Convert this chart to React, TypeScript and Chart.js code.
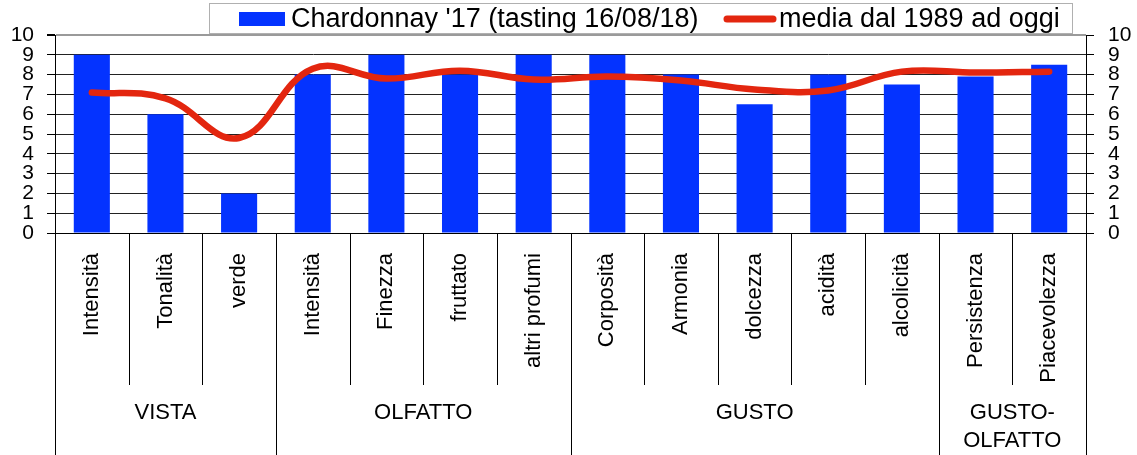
import React, { useEffect, useRef } from "react";
import { Chart, registerables } from "chart.js";

Chart.register(...registerables);

const categories = [
  "Intensità", "Tonalità", "verde",
  "Intensità", "Finezza", "fruttato", "altri profumi",
  "Corposità", "Armonia", "dolcezza", "acidità", "alcolicità",
  "Persistenza", "Piacevolezza",
];
const tastingValues = [9, 6, 2, 8, 9, 8, 9, 9, 8, 6.5, 8, 7.5, 7.9, 8.5];
const averageValues = [7.1, 6.8, 4.8, 8.3, 7.8, 8.2, 7.75, 7.9, 7.7, 7.25, 7.2, 8.15, 8.1, 8.15];
const groupLabels = [["VISTA"], ["OLFATTO"], ["GUSTO"], ["GUSTO-", "OLFATTO"]];
const groupSizes = [3, 4, 5, 2];
const seriesNames = ["Chardonnay '17 (tasting 16/08/18)", "media dal 1989 ad oggi"];

const BLUE = "#0433ff";
const RED = "#e3260f";
const FONT = "'Liberation Sans', Arial, sans-serif";

const decorPlugin = {
  id: "decor",
  afterDraw(chart: any) {
    const { ctx, chartArea } = chart;
    const x = chart.scales.x;
    const n = categories.length;
    const step = (chartArea.right - chartArea.left) / n;
    ctx.save();
    const bounds = new Set<number>([0]);
    let acc = 0;
    groupSizes.forEach((s) => { acc += s; bounds.add(acc); });
    ctx.strokeStyle = "#000";
    ctx.lineWidth = 1;
    for (let i = 0; i <= n; i++) {
      const px = Math.round(x.getPixelForValue(i) - step / 2) + 0.5;
      ctx.beginPath();
      ctx.moveTo(px, chartArea.bottom);
      ctx.lineTo(px, bounds.has(i) ? chart.height : chartArea.bottom + 152);
      ctx.stroke();
    }
    ctx.fillStyle = "#000";
    ctx.font = `22px ${FONT}`;
    ctx.textAlign = "center";
    ctx.textBaseline = "middle";
    let start = 0;
    groupSizes.forEach((s, gi) => {
      const cx = (x.getPixelForValue(start) + x.getPixelForValue(start + s - 1)) / 2;
      groupLabels[gi].forEach((line, li) => {
        ctx.fillText(line, cx, chartArea.bottom + 180 + li * 28);
      });
      start += s;
    });
    // legend
    ctx.fillStyle = "#fff";
    ctx.fillRect(209.5, 3.5, 863, 30);
    ctx.strokeStyle = "#b0b0b0";
    ctx.lineWidth = 1;
    ctx.strokeRect(209.5, 3.5, 863, 30);
    ctx.fillStyle = BLUE;
    ctx.fillRect(239, 12, 46, 14);
    ctx.strokeStyle = RED;
    ctx.lineWidth = 7;
    ctx.lineCap = "round";
    ctx.beginPath();
    ctx.moveTo(727, 19);
    ctx.lineTo(773, 19);
    ctx.stroke();
    ctx.fillStyle = "#000";
    ctx.font = `27px ${FONT}`;
    ctx.textAlign = "left";
    ctx.textBaseline = "middle";
    ctx.fillText(seriesNames[0], 291, 20);
    ctx.fillText(seriesNames[1], 779, 20);
    ctx.restore();
  },
};

export default function App() {
  const ref = useRef<HTMLCanvasElement>(null);
  useEffect(() => {
    document.body.style.margin = "0";
    const canvas = ref.current!;
    const chart = new Chart(canvas, {
      type: "bar",
      data: {
        labels: categories,
        datasets: [
          {
            type: "line",
            label: seriesNames[1],
            data: averageValues,
            borderColor: RED,
            backgroundColor: RED,
            borderWidth: 6.5,
            tension: 0.4,
            pointRadius: 0,
            borderCapStyle: "round",
            yAxisID: "y",
            order: 0,
          } as any,
          {
            type: "bar",
            label: seriesNames[0],
            data: tastingValues,
            backgroundColor: BLUE,
            borderWidth: 0,
            barPercentage: 0.49,
            categoryPercentage: 1,
            yAxisID: "y",
            order: 1,
          },
        ],
      },
      options: {
        responsive: false,
        animation: false,
        layout: { padding: { top: 35, left: 0, right: 0, bottom: 0 } },
        plugins: {
          legend: { display: false },
          title: { display: false },
          tooltip: { enabled: false },
        },
        scales: {
          x: {
            offset: true,
            grid: { display: false },
            border: { display: true, color: "#000", width: 1 },
            ticks: {
              autoSkip: false,
              minRotation: 90,
              maxRotation: 90,
              padding: 12,
              color: "#000",
              font: { family: FONT, size: 22 },
            },
            afterFit: (s: any) => { s.height = 222; },
          },
          y: {
            position: "left",
            min: 0,
            max: 10,
            grid: {
              color: (c: any) => (c.tick && c.tick.value === 10 ? "#9a9a9a" : "#222"),
              lineWidth: (c: any) => (c.tick && c.tick.value === 10 ? 2 : 1),
              tickColor: "#000",
              tickLength: 8,
              drawTicks: true,
            },
            border: { display: true, color: "#000", width: 1 },
            ticks: {
              stepSize: 1,
              autoSkip: false,
              padding: 13,
              color: "#000",
              font: { family: FONT, size: 21, lineHeight: 1 },
            },
            afterFit: (s: any) => { s.width = 55; },
          },
          y2: {
            position: "right",
            min: 0,
            max: 10,
            grid: { drawOnChartArea: false, tickColor: "#000", tickLength: 8, drawTicks: true },
            border: { display: true, color: "#000", width: 1 },
            ticks: {
              stepSize: 1,
              autoSkip: false,
              padding: 14,
              color: "#000",
              font: { family: FONT, size: 21, lineHeight: 1 },
            },
            afterFit: (s: any) => { s.width = 51; },
          },
        },
      },
      plugins: [decorPlugin],
    });
    return () => chart.destroy();
  }, []);
  return (
    <div style={{ width: 1137, height: 455, background: "#fff" }}>
      <canvas ref={ref} width={1137} height={455} />
    </div>
  );
}
